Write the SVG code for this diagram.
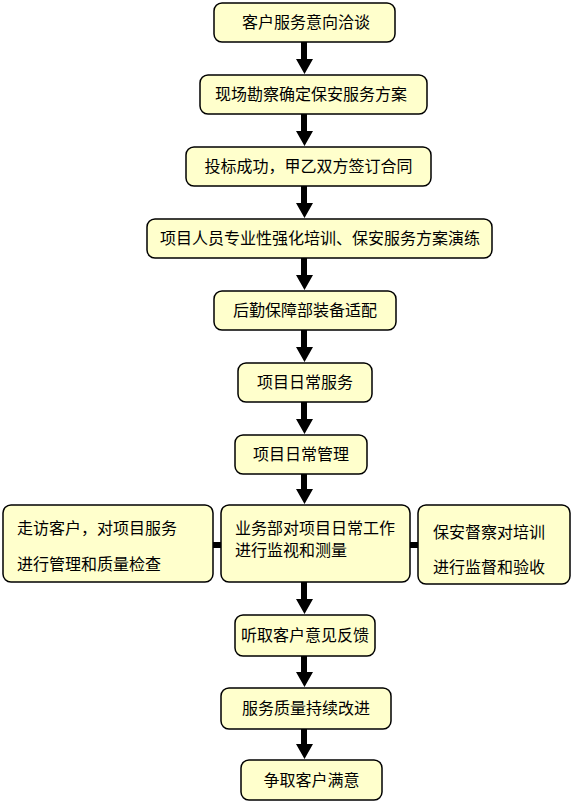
<svg xmlns="http://www.w3.org/2000/svg" width="574" height="804" viewBox="0 0 574 804">
<style>
.box{fill:#FFFFCC;stroke:#000;stroke-width:1.5}
.t{font-family:"Noto Sans CJK SC","Liberation Sans",sans-serif;font-size:16px;fill:#000}
.c{text-anchor:middle}
.shaft{stroke:#000;stroke-width:6;fill:none}
.head{fill:#000}
</style>
<rect width="574" height="804" fill="#fff"/>
<g id="connectors">
<path class="shaft" d="M304 42V60M304 114V132M304 186V204M304 258V276M304 330V348M304 402V420M304 474V490M304 582V600M304 656V673M304 729V745"/>
<path class="head" d="M296 59H313L304.5 74ZM296 131H313L304.5 146ZM296 203H313L304.5 218ZM296 275H313L304.5 290ZM296 347H313L304.5 362ZM296 419H313L304.5 434ZM296 489H313L304.5 504ZM296 599H313L304.5 614ZM296 672H313L304.5 687ZM296 744H313L304.5 759Z"/>
<path class="shaft" d="M213 545H221M410 545H418"/>
</g>
<g id="n1"><rect class="box" x="214" y="3" width="181" height="39" rx="8"/><text class="t c" x="306" y="28">客户服务意向洽谈</text></g>
<g id="n2"><rect class="box" x="200" y="75" width="227" height="39" rx="8"/><text class="t c" x="311" y="100">现场勘察确定保安服务方案</text></g>
<g id="n3"><rect class="box" x="186" y="147" width="245" height="39" rx="8"/><text class="t c" x="308.5" y="172">投标成功，甲乙双方签订合同</text></g>
<g id="n4"><rect class="box" x="147" y="219" width="345" height="39" rx="8"/><text class="t c" x="320" y="244">项目人员专业性强化培训、保安服务方案演练</text></g>
<g id="n5"><rect class="box" x="214" y="291" width="182" height="39" rx="8"/><text class="t c" x="305" y="316">后勤保障部装备适配</text></g>
<g id="n6"><rect class="box" x="238" y="363" width="134" height="39" rx="8"/><text class="t c" x="305" y="388">项目日常服务</text></g>
<g id="n7"><rect class="box" x="235" y="435" width="132" height="39" rx="8"/><text class="t c" x="301" y="460">项目日常管理</text></g>
<g id="n8"><rect class="box" x="221" y="505" width="189" height="77" rx="8"/><text class="t" x="235" y="534">业务部对项目日常工作</text><text class="t" x="235" y="556">进行监视和测量</text></g>
<g id="n8l"><rect class="box" x="3" y="505" width="210" height="77" rx="8"/><text class="t" x="17" y="534">走访客户，对项目服务</text><text class="t" x="17" y="570">进行管理和质量检查</text></g>
<g id="n8r"><rect class="box" x="418" y="505" width="152" height="79" rx="8"/><text class="t" x="433" y="538">保安督察对培训</text><text class="t" x="433" y="573">进行监督和验收</text></g>
<g id="n9"><rect class="box" x="235" y="615" width="140" height="41" rx="8"/><text class="t c" x="305" y="641">听取客户意见反馈</text></g>
<g id="n10"><rect class="box" x="221" y="688" width="170" height="41" rx="8"/><text class="t c" x="306" y="714">服务质量持续改进</text></g>
<g id="n11"><rect class="box" x="241" y="760" width="141" height="40" rx="8"/><text class="t c" x="311.5" y="786">争取客户满意</text></g>
</svg>
